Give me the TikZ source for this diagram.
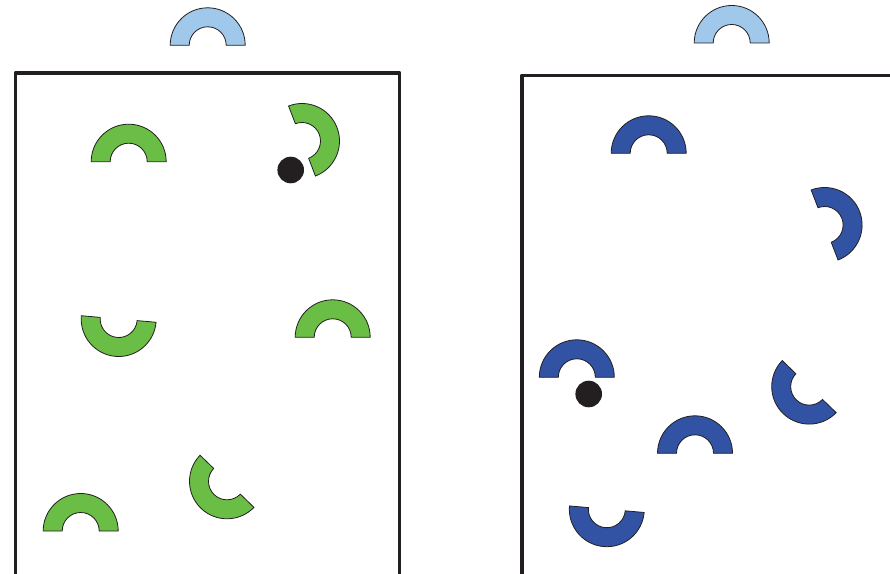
\documentclass[tikz,border=0pt]{standalone}
\definecolor{grn}{HTML}{6ABD45}
\definecolor{lblue}{HTML}{A0C8EA}
\definecolor{dblue}{HTML}{3253A3}
\definecolor{ink}{HTML}{231F20}
\tikzset{
  halfring/.pic={
    \path[pic actions] (0:37.5) arc[start angle=0,end angle=180,radius=37.5]
      -- (180:18.5) arc[start angle=180,end angle=0,radius=18.5] -- cycle;
  },
  ring/.style={draw=ink, line width=0.8pt, line join=miter},
  gring/.style={ring, fill=grn},
  lring/.style={ring, fill=lblue},
  dring/.style={ring, fill=dblue},
  dot/.style={fill=ink},
  frame/.style={draw=ink, line width=3.5pt, line join=round}
}
\begin{document}
\begin{tikzpicture}[x=1pt,y=1pt]
\useasboundingbox (0,0) rectangle (890,573);
\clip (0,0) rectangle (890,573);
% frames
\draw[frame] (15.3,-10) -- (15.3,500) -- (399.7,500) -- (399.7,-10);
\draw[frame] (522,-10) -- (522,497.7) -- (900,497.7);
% light blue tops
\pic[lring] at (207.7,527.7) {halfring};
\pic[lring] at (731.7,530) {halfring};
% left panel (green)
\pic[gring] at (128.7,411.3) {halfring};
\pic[gring, rotate=-69] at (302,432) {halfring};
\fill[dot] (290.7,403) circle[radius=13.3];
\pic[gring, rotate=175] at (118.7,254) {halfring};
\pic[gring] at (332.7,235.7) {halfring};
\pic[gring, rotate=136] at (227,91.7) {halfring};
\pic[gring] at (80.7,42) {halfring};
% right panel (dark blue)
\pic[dring] at (648.7,419.7) {halfring};
\pic[dring, rotate=-69] at (824.6,348) {halfring};
\pic[dring] at (576.8,195.7) {halfring};
\fill[dot] (588.7,179) circle[radius=13.3];
\pic[dring, rotate=136] at (809.2,186.4) {halfring};
\pic[dring] at (695,119.7) {halfring};
\pic[dring, rotate=175] at (606.8,63.8) {halfring};
\end{tikzpicture}
\end{document}
